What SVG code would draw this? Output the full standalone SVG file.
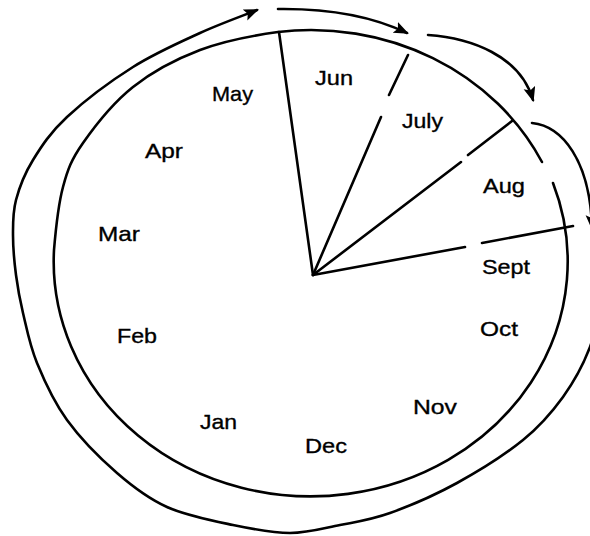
<svg xmlns="http://www.w3.org/2000/svg" width="590" height="536" viewBox="0 0 590 536">
<style>
.ln{fill:none;stroke:#000;stroke-width:2.6;stroke-linecap:round;stroke-linejoin:round}
.ar{fill:none;stroke:#000;stroke-width:2.6;stroke-linecap:round;marker-end:url(#ah)}
.lb{font-family:"Liberation Sans",Arial,sans-serif;font-size:21px;fill:#000;stroke:#000;stroke-width:0.35}
</style>
<defs>
<marker id="ah" markerUnits="userSpaceOnUse" markerWidth="18" markerHeight="14" refX="13" refY="6" orient="auto">
<path d="M0,0 L15,6 L0,12 L3,6 z" fill="#000"/>
</marker>
</defs>
<rect width="590" height="536" fill="#fff"/>
<g id="wheel">
<path class="ln" d="M553,183 A257 235 0 1 1 54,250 C55.3,234.5 58.2,204.8 63,187 C67.8,169.2 71.3,159.7 83,143 C94.7,126.3 113.5,102.5 133,87 C152.5,71.5 175.8,59.2 200,50 C224.2,40.8 256.3,35 278,32 A257 235 0 0 1 542,162"/>
<path class="ln" d="M279,32 L313,275"/>
<path class="ln" d="M408,55 L389,95 M381,117 L313,275"/>
<path class="ln" d="M512,121 L468,155 M461,162 L313,275"/>
<path class="ln" d="M313,275 L465,247 M482,243 L573,226"/>
</g>
<g id="connectors">
<path class="ar" d="M598,305 C596.3,317.8 595.8,331.7 590,347 C584.2,362.3 574.2,381.5 563,397 C551.8,412.5 540.7,425.7 523,440 C505.3,454.3 479.2,470.8 457,483 C434.8,495.2 409.5,506 390,513 C370.5,520 356.7,521.7 340,525 C323.3,528.3 307.8,533 290,533 C272.2,533 253.5,529.3 233,525 C212.5,520.7 186.3,515.7 167,507 C147.7,498.3 133.7,487.5 117,473 C100.3,458.5 80.3,438.3 67,420 C53.7,401.7 44.3,380.8 37,363 C29.7,345.2 26.5,327.7 23,313 C19.5,298.3 17.7,288 16,275 C14.3,262 13,247.5 13,235 C13,222.5 12.7,212.5 16,200 C19.3,187.5 24.5,173.8 33,160 C41.5,146.2 50.3,132.5 67,117 C83.7,101.5 110.8,81 133,67 C155.2,53 179.7,42.3 200,33 C220.3,23.7 245.8,14.7 257,10"/>
<path class="ar" d="M278,9 Q355,8 407,33"/>
<path class="ar" d="M428,35 C470,38 520,55 533,100"/>
<path class="ar" d="M532,123 C562,126 590,160 592,228"/>
</g>
<g id="labels">
<text id="jun" class="lb" x="315" y="85" textLength="38" lengthAdjust="spacingAndGlyphs">Jun</text>
<text id="may" class="lb" x="212" y="101" textLength="41" lengthAdjust="spacingAndGlyphs">May</text>
<text id="apr" class="lb" x="145" y="158" textLength="38" lengthAdjust="spacingAndGlyphs">Apr</text>
<text id="mar" class="lb" x="98" y="241" textLength="42" lengthAdjust="spacingAndGlyphs">Mar</text>
<text id="july" class="lb" x="402" y="128" textLength="41" lengthAdjust="spacingAndGlyphs">July</text>
<text id="aug" class="lb" x="483" y="193" textLength="42" lengthAdjust="spacingAndGlyphs">Aug</text>
<text id="sept" class="lb" x="482" y="274" textLength="48" lengthAdjust="spacingAndGlyphs">Sept</text>
<text id="oct" class="lb" x="480" y="336" textLength="38" lengthAdjust="spacingAndGlyphs">Oct</text>
<text id="nov" class="lb" x="413" y="414" textLength="44" lengthAdjust="spacingAndGlyphs">Nov</text>
<text id="dec" class="lb" x="305" y="453" textLength="42" lengthAdjust="spacingAndGlyphs">Dec</text>
<text id="jan" class="lb" x="200" y="429" textLength="37" lengthAdjust="spacingAndGlyphs">Jan</text>
<text id="feb" class="lb" x="117" y="343" textLength="40" lengthAdjust="spacingAndGlyphs">Feb</text>
</g>
</svg>
